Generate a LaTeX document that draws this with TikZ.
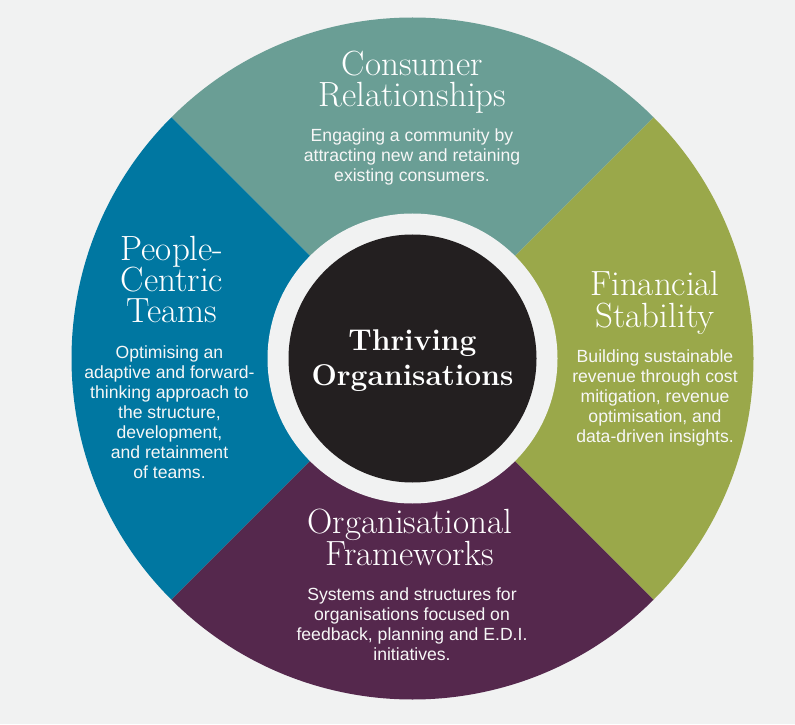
\documentclass[tikz,border=0pt]{standalone}
\usepackage{fontspec}
\newfontfamily\bodyfont{Liberation Sans}
\definecolor{bgc}{HTML}{F1F2F2}
\definecolor{tealc}{HTML}{6A9E95}
\definecolor{olivec}{HTML}{9AA84A}
\definecolor{bluec}{HTML}{0077A1}
\definecolor{plumc}{HTML}{55284D}
\definecolor{darkc}{HTML}{231F20}
\begin{document}
\begin{tikzpicture}[x=1pt,y=1pt,
  heading/.style={text=white, align=center, inner sep=0pt, anchor=base,
    font=\fontsize{35}{31.5}\selectfont},
  bodytext/.style={text=white!94!gray, align=center, inner sep=0pt, anchor=base,
    font=\bodyfont\fontsize{17.6}{20}\selectfont},
  titletext/.style={text=white, align=center, inner sep=0pt, anchor=base,
    font=\bfseries\fontsize{30}{35}\selectfont}]
\fill[bgc] (0,0) rectangle (795,724);
\useasboundingbox (0,0) rectangle (795,724);
\coordinate (c) at (412.5,365.5);
\fill[tealc] (c) -- ++(45:341) arc[start angle=45,end angle=135,radius=341] -- cycle;
\fill[bluec] (c) -- ++(135:341) arc[start angle=135,end angle=225,radius=341] -- cycle;
\fill[plumc] (c) -- ++(225:341) arc[start angle=225,end angle=315,radius=341] -- cycle;
\fill[olivec] (c) -- ++(-45:341) arc[start angle=-45,end angle=45,radius=341] -- cycle;
\node[circle, fill=bgc, minimum size=290pt, inner sep=0pt] (ring) at (c) {};
\node[circle, fill=darkc, minimum size=248pt, inner sep=0pt] (core) at (c) {};
\node[titletext] (title) at (412.5,339) {Thriving\\Organisations};

\node[heading] (h1) at (412.5,617) {Consumer\\Relationships};
\node[bodytext] (b1) at (412,542.5) {Engaging a community by\\attracting new and retaining\\existing consumers.};

\node[heading] (h2) at (172,401) {People-\\Centric\\Teams};
\node[bodytext] (b2) at (169.5,246) {Optimising an\\adaptive and forward-\\thinking approach to\\the structure,\\development,\\and retainment\\of teams.};

\node[heading] (h3) at (655,396.5) {Financial\\Stability};
\node[bodytext] (b3) at (655,282) {Building sustainable\\revenue through cost\\mitigation, revenue\\optimisation, and\\data-driven insights.};

\node[heading] (h4) at (410,159) {Organisational\\Frameworks};
\node[bodytext] (b4) at (412,64) {Systems and structures for\\organisations focused on\\feedback, planning and E.D.I.\\initiatives.};
\end{tikzpicture}
\end{document}
